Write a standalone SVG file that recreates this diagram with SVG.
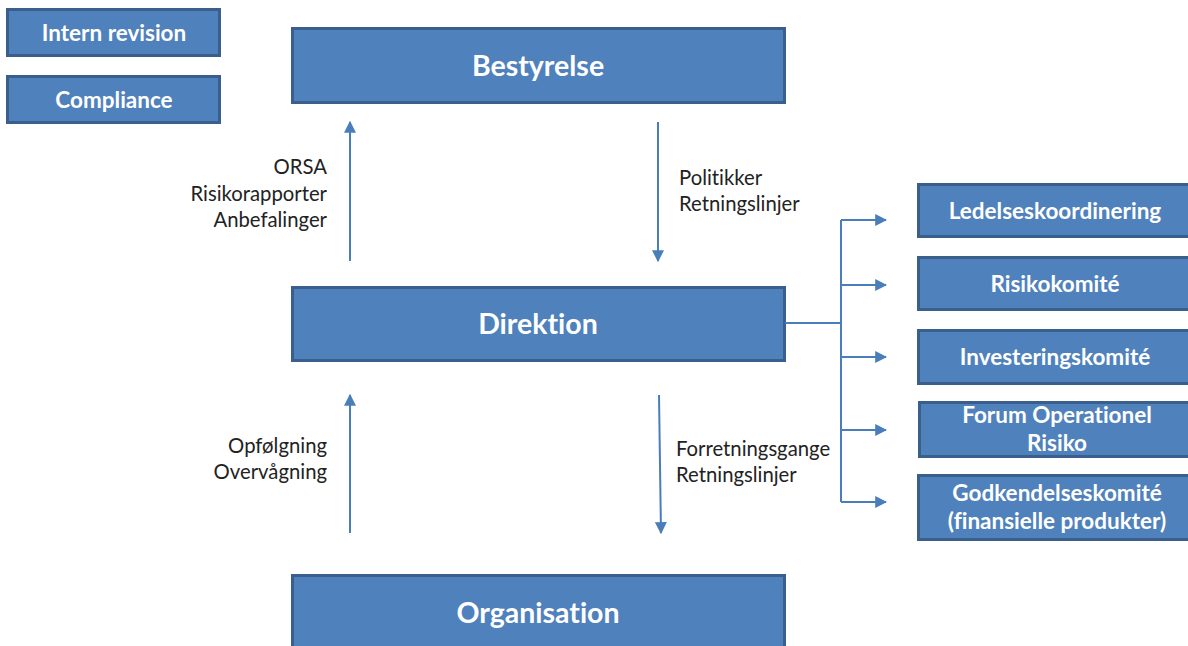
<svg xmlns="http://www.w3.org/2000/svg" width="1188" height="646" viewBox="0 0 1188 646">
<style>
text{font-variant-ligatures:none;font-feature-settings:"liga" 0}
.box{fill:#4F81BD;stroke:#3A5F8C;stroke-width:3}
.t{font-family:Lato,"Open Sans","Liberation Sans",sans-serif;font-weight:bold;fill:#fff;text-anchor:middle}
.big{font-size:28.5px}
.sm{font-size:22.5px}
.lbl{font-family:Lato,"Open Sans","Liberation Sans",sans-serif;font-size:20.3px;fill:#222}
.ln{stroke:#4A7EBB;stroke-width:2;fill:none}
</style>
<defs>
<marker id="ah" viewBox="0 0 10 10" refX="9" refY="5" markerWidth="12" markerHeight="12" markerUnits="userSpaceOnUse" orient="auto">
<path d="M0,0 L10,5 L0,10 Z" fill="#4A7EBB"/>
</marker>
</defs>
<rect width="1188" height="646" fill="#fff"/>
<g id="intern"><rect class="box" x="7.5" y="9.5" width="212" height="46"/><text class="t sm" x="114" y="41">Intern revision</text></g>
<g id="compliance"><rect class="box" x="7.5" y="76.5" width="212" height="46"/><text class="t sm" x="114" y="108">Compliance</text></g>
<g id="bestyrelse"><rect class="box" x="292.5" y="28.5" width="492" height="74"/><text class="t big" x="538" y="76">Bestyrelse</text></g>
<g id="direktion"><rect class="box" x="292.5" y="287.5" width="492" height="73"/><text class="t big" x="538" y="334">Direktion</text></g>
<g id="organisation"><rect class="box" x="292.5" y="575.5" width="492" height="80"/><text class="t big" x="538" y="623">Organisation</text></g>
<g id="ledelse"><rect class="box" x="918.5" y="184.5" width="280" height="52"/><text class="t sm" x="1055" y="219">Ledelseskoordinering</text></g>
<g id="risiko"><rect class="box" x="918.5" y="257.5" width="280" height="52"/><text class="t sm" x="1055" y="292">Risikokomité</text></g>
<g id="invest"><rect class="box" x="918.5" y="330.5" width="280" height="53"/><text class="t sm" x="1055" y="365">Investeringskomité</text></g>
<g id="forum"><rect class="box" x="919.5" y="402.5" width="280" height="54"/><text class="t sm" x="1057" y="423">Forum Operationel</text><text class="t sm" x="1057" y="451">Risiko</text></g>
<g id="godkend"><rect class="box" x="918.5" y="475.5" width="280" height="64"/><text class="t sm" x="1057" y="501">Godkendelseskomité</text><text class="t sm" x="1057" y="529">(finansielle produkter)</text></g>
<g id="connectors">
<line class="ln" x1="350" y1="261" x2="350" y2="122" marker-end="url(#ah)"/>
<line class="ln" x1="658" y1="122" x2="658" y2="261" marker-end="url(#ah)"/>
<line class="ln" x1="350" y1="533" x2="350" y2="395" marker-end="url(#ah)"/>
<line class="ln" x1="659" y1="395" x2="661" y2="533" marker-end="url(#ah)"/>
<path class="ln" d="M785,323 H841 M841,220 V502"/>
<line class="ln" x1="841" y1="220" x2="886" y2="220" marker-end="url(#ah)"/>
<line class="ln" x1="841" y1="285" x2="886" y2="285" marker-end="url(#ah)"/>
<line class="ln" x1="841" y1="357" x2="886" y2="357" marker-end="url(#ah)"/>
<line class="ln" x1="841" y1="430" x2="886" y2="430" marker-end="url(#ah)"/>
<line class="ln" x1="841" y1="502" x2="886" y2="502" marker-end="url(#ah)"/>
</g>
<g id="labels">
<text class="lbl" x="327" y="174" text-anchor="end">ORSA</text>
<text class="lbl" x="327" y="201" text-anchor="end">Risikorapporter</text>
<text class="lbl" x="327" y="227" text-anchor="end">Anbefalinger</text>
<text class="lbl" x="679" y="185">Politikker</text>
<text class="lbl" x="679" y="211">Retningslinjer</text>
<text class="lbl" x="327" y="453" text-anchor="end">Opfølgning</text>
<text class="lbl" x="327" y="479" text-anchor="end">Overvågning</text>
<text class="lbl" x="676" y="456">Forretningsgange</text>
<text class="lbl" x="676" y="482">Retningslinjer</text>
</g>
</svg>
